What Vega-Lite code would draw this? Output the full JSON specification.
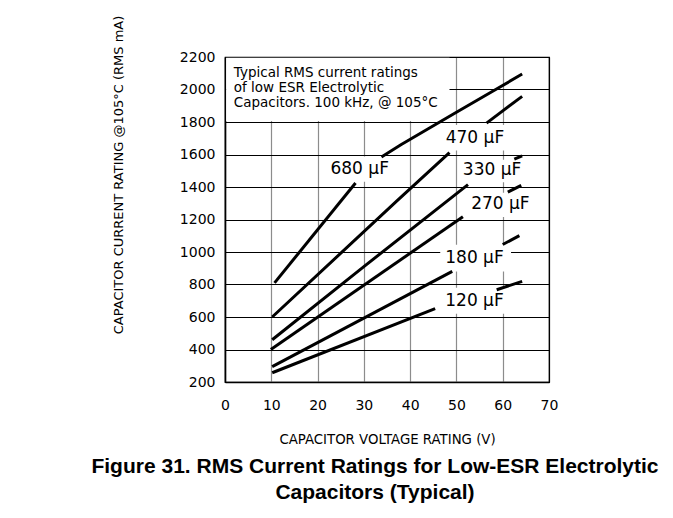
{
  "$schema": "https://vega.github.io/schema/vega-lite/v6.json",
  "width": 324,
  "height": 325,
  "autosize": {"type": "none"},
  "padding": {"left": 225, "top": 57, "right": 124, "bottom": 136},
  "background": "white",
  "config": {"view": {"stroke": "black", "strokeWidth": 1.2}, "font": "DejaVu Sans"},
  "title": {
    "text": ["Figure 31. RMS Current Ratings for Low-ESR Electrolytic", "Capacitors (Typical)"],
    "orient": "bottom", "anchor": "middle", "font": "Liberation Sans", "fontSize": 21,
    "fontWeight": "bold", "color": "black", "lineHeight": 26, "offset": 11, "dx": -12
  },
  "datasets": {
    "curves": [
      {"seg": "680a", "x": 10.7, "y": 810}, {"seg": "680a", "x": 28.2, "y": 1425},
      {"seg": "680b", "x": 33.8, "y": 1585}, {"seg": "680b", "x": 38, "y": 1660}, {"seg": "680b", "x": 44, "y": 1760}, {"seg": "680b", "x": 50, "y": 1860}, {"seg": "680b", "x": 58.2, "y": 1995}, {"seg": "680b", "x": 64.2, "y": 2095},
      {"seg": "470a", "x": 10.2, "y": 600}, {"seg": "470a", "x": 37.2, "y": 1316}, {"seg": "470a", "x": 48.5, "y": 1612},
      {"seg": "470b", "x": 56.5, "y": 1793}, {"seg": "470b", "x": 64.2, "y": 1958},
      {"seg": "330a", "x": 10.2, "y": 460}, {"seg": "330a", "x": 30, "y": 910}, {"seg": "330a", "x": 52.5, "y": 1415},
      {"seg": "330b", "x": 62.5, "y": 1572}, {"seg": "330b", "x": 64.2, "y": 1592},
      {"seg": "270a", "x": 9.9, "y": 400}, {"seg": "270a", "x": 51.4, "y": 1217},
      {"seg": "270b", "x": 61.1, "y": 1369}, {"seg": "270b", "x": 64, "y": 1410},
      {"seg": "180a", "x": 10.2, "y": 295}, {"seg": "180a", "x": 49.1, "y": 881},
      {"seg": "180b", "x": 60, "y": 1046}, {"seg": "180b", "x": 63.6, "y": 1101},
      {"seg": "120a", "x": 10.2, "y": 257}, {"seg": "120a", "x": 45.4, "y": 651},
      {"seg": "120b", "x": 58.7, "y": 768}, {"seg": "120b", "x": 64.2, "y": 819}
    ],
    "labels": [
      {"x": 29.1, "y": 1509, "label": "680 µF"},
      {"x": 54.0, "y": 1704, "label": "470 µF"},
      {"x": 57.7, "y": 1504, "label": "330 µF"},
      {"x": 59.5, "y": 1293, "label": "270 µF"},
      {"x": 53.9, "y": 963, "label": "180 µF"},
      {"x": 53.9, "y": 696, "label": "120 µF"}
    ],
    "boxes": [
      {"x": 0.25, "xe": 48.5, "y": 1806, "ye": 2196},
      {"x": 22.6, "xe": 36, "y": 1432, "ye": 1588},
      {"x": 47.5, "xe": 60.8, "y": 1625, "ye": 1782},
      {"x": 50.9, "xe": 64.5, "y": 1430, "ye": 1568},
      {"x": 52.8, "xe": 66.2, "y": 1215, "ye": 1365},
      {"x": 46.5, "xe": 61.8, "y": 880, "ye": 1045},
      {"x": 47, "xe": 61, "y": 620, "ye": 780}
    ],
    "note": [
      {"x": 1.9, "y": 2076, "label": "Typical RMS current ratings"},
      {"x": 1.9, "y": 1982, "label": "of low ESR Electrolytic"},
      {"x": 1.9, "y": 1890, "label": "Capacitors. 100 kHz, @ 105°C"}
    ]
  },
  "encoding": {
    "x": {
      "field": "x", "type": "quantitative",
      "scale": {"domain": [0, 70], "nice": false, "zero": false},
      "axis": {
        "title": "CAPACITOR VOLTAGE RATING (V)",
        "values": [0, 10, 20, 30, 40, 50, 60, 70],
        "grid": true,
        "gridColor": {"condition": {"test": "datum.value == 0 || datum.value == 70", "value": "black"}, "value": "#8c8c8c"},
        "gridWidth": 1.2, "ticks": false, "domainColor": "black", "domainWidth": 1.5,
        "labelFont": "DejaVu Sans", "labelFontSize": 14, "labelColor": "black", "labelPadding": 16,
        "labelFlush": false, "labelOverlap": false,
        "titleFont": "DejaVu Sans", "titleFontSize": 13.3, "titleFontWeight": "normal", "titleColor": "black",
        "titleY": 61, "titleBaseline": "alphabetic"
      }
    },
    "y": {
      "field": "y", "type": "quantitative",
      "scale": {"domain": [200, 2200], "nice": false, "zero": false},
      "axis": {
        "title": "CAPACITOR CURRENT RATING @105°C (RMS mA)",
        "values": [200, 400, 600, 800, 1000, 1200, 1400, 1600, 1800, 2000, 2200],
        "format": "d",
        "grid": true, "gridColor": "black", "gridWidth": 1.2, "ticks": false,
        "domainColor": "black", "domainWidth": 1.5,
        "labelFont": "DejaVu Sans", "labelFontSize": 14, "labelColor": "black", "labelPadding": 10,
        "titleFont": "DejaVu Sans", "titleFontSize": 13, "titleFontWeight": "normal", "titleColor": "black",
        "titleX": -107, "titleY": 117.5, "titleAngle": 270, "titleAlign": "center", "titleBaseline": "middle"
      }
    }
  },
  "layer": [
    {
      "data": {"name": "boxes"},
      "mark": {"type": "rect", "fill": "white", "stroke": null},
      "encoding": {"x2": {"field": "xe"}, "y2": {"field": "ye"}}
    },
    {
      "data": {"name": "curves"},
      "mark": {"type": "line", "color": "black", "strokeWidth": 3},
      "encoding": {"detail": {"field": "seg"}, "order": {"field": "x", "type": "quantitative"}}
    },
    {
      "data": {"name": "labels"},
      "mark": {"type": "text", "font": "DejaVu Sans", "fontSize": 17, "color": "black", "align": "center", "baseline": "middle"},
      "encoding": {"text": {"field": "label"}}
    },
    {
      "data": {"name": "note"},
      "mark": {"type": "text", "font": "DejaVu Sans", "fontSize": 13.5, "color": "black", "align": "left", "baseline": "alphabetic"},
      "encoding": {"text": {"field": "label"}}
    }
  ]
}
